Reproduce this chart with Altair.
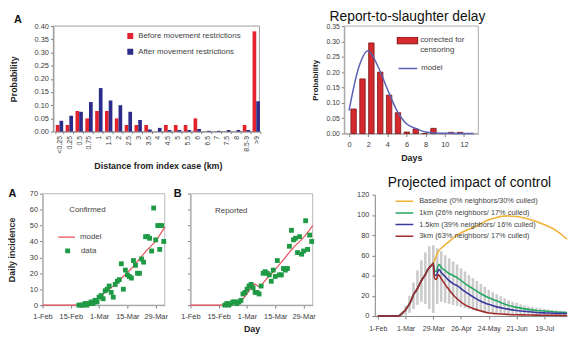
import altair as alt
import pandas as pd

FONT = "Liberation Sans"
W, H = 573, 329

# ---------------- data: distance histogram ----------------
dist_cats = ["<0.25", "0.25", "0.5", "0.75", "1", "1.5", "2", "2.5", "3", "3.5", "4",
             "4.5", "5", "5.5", "6", "6.5", "7", "7.5", "8", "8.5-9", ">9"]
before_vals = [0.025, 0.025, 0.078, 0.05, 0.078, 0.078, 0.05, 0.025, 0.025, 0.025, 0.0,
               0.025, 0.025, 0.025, 0.05, 0.0, 0.0, 0.0, 0.0, 0.025, 0.38]
after_vals = [0.041, 0.06, 0.075, 0.112, 0.165, 0.118, 0.10, 0.075, 0.044, 0.008, 0.014,
              0.006, 0.006, 0.006, 0.01, 0.003, 0.003, 0.006, 0.006, 0.006, 0.115]
SER1 = ["Before movement restrictions", "After movement restrictions"]
COL1 = ["#e3232b", "#2d2b8a"]

# ---------------- data: report-to-slaughter delay ----------------
delay_days = [0, 1, 2, 3, 4, 5, 6, 7, 8, 9, 10, 11, 12]
delay_prob = [0.08, 0.178, 0.295, 0.20, 0.125, 0.068, 0.005, 0.015, 0.0, 0.017, 0.0, 0.004, 0.004]
model_days = [0, 1, 2, 3, 4, 5, 6, 7, 8, 9, 10, 11, 12, 13]
model_prob = [0.075, 0.214, 0.27, 0.22, 0.145, 0.075, 0.032, 0.016, 0.005, 0.002, 0.001, 0.0005, 0.0, 0.0]

# ---------------- data: daily incidence ----------------
conf_days = list(range(18, 61))
conf_vals = [0, 0, 0, 1, 0, 1, 2, 1, 3, 2, 5, 6, 4, 9, 10, 12, 8, 5, 13, 15, 16, 26, 10, 22,
             19, 18, 17, 28, 25, 20, 20, 29, 27, 43, 43, 42, 34, 61, 41, 50, 35, 50, 40]
conf_model_days = [0, 20, 22, 24, 26, 28, 30, 32, 34, 36, 38, 40, 42, 44, 46, 48, 50, 52, 54, 56, 58, 60.5]
conf_model_vals = [0, 0, 0.5, 1.5, 3, 5, 7, 9, 11, 13, 15.5, 18, 20.5, 23, 26, 29, 32, 35, 37.5, 40, 44, 49]
rep_days = list(range(17, 61))
rep_vals = [0, 1, 0, 1, 2, 2, 1, 2, 3, 7, 8, 10, 12, 13, 11, 8, 8, 7, 12, 20, 21, 20, 19, 15,
            22, 18, 28, 19, 19, 23, 22, 23, 37, 47, 41, 42, 33, 43, 32, 34, 53, 35, 44, 40]
rep_model_days = [0, 17, 20, 22, 24, 26, 28, 30, 31.5, 33, 34.5, 36, 38, 40, 43, 46, 49.5, 52, 54.5, 57, 60.5]
rep_model_vals = [0, 0, 0.5, 1, 2, 4, 7, 11, 13.5, 12.5, 11, 14, 17, 19.5, 24, 28.5, 34, 37.5, 40.5, 44, 50]
inc_tick_days = [0, 14, 28, 42, 56]
inc_tick_labels = ["1-Feb", "15-Feb", "1-Mar", "15-Mar", "29-Mar"]

# ---------------- data: projected impact ----------------
rise_days = [0, 10, 20, 22, 24, 26, 28, 30, 32, 34, 36, 38, 40, 42, 44, 46, 48, 50, 52, 54, 56]
rise_vals = [0, 0, 0, 0.5, 2, 4, 6, 9, 12, 16, 21, 24, 27, 31, 35, 38, 41, 45, 48, 50, 52]
base_days = [58, 60, 62, 64, 70, 80, 90, 100, 110, 120, 130, 140, 150, 160, 170, 180, 191]
base_vals = [57, 62, 65, 67, 72, 80, 85, 89, 94.5, 97.5, 99, 98.5, 96.5, 93.5, 89.5, 84.5, 76]
ctrl_days = [57, 59, 61, 62, 64, 68, 72, 76, 80, 88, 96, 104, 112, 120, 130, 140, 150, 160, 170, 180, 191]
km1_vals = [45, 44, 50, 51, 48, 45, 42, 40, 38, 32, 27, 22, 18, 15, 11, 8.5, 6.8, 5.5, 4.7, 4, 3.5]
km15_vals = [41, 40, 45, 46, 43, 39, 35, 32, 30, 24, 19, 14.5, 11.5, 9, 7, 5.5, 4.4, 3.5, 3, 2.6, 2.5]
km3_vals = [38, 36, 41, 40, 37, 31, 26, 21, 17, 11, 7.5, 5, 3, 2.2, 1.6, 1.2, 1, 0.8, 0.7, 0.6, 0.5]
band_days = [24, 28, 32, 36, 40, 44, 48, 52, 56, 60, 64, 68, 72, 76, 80, 84, 88, 92, 96, 100, 104,
             108, 112, 116, 120, 124, 128, 132, 136, 140, 144, 148, 152, 156, 160, 164, 168, 172,
             176, 180, 184, 188]
band_hi = [3, 10, 20, 33, 45, 55, 63, 69, 70, 67, 64, 60, 57, 54, 51, 47, 44, 40.5, 37.5, 34.5,
           31.5, 29, 26, 23.5, 21.5, 19.5, 17.5, 15.5, 14, 13, 11.5, 10.5, 9.5, 9, 8.2, 7.6, 7,
           6.5, 6, 5.6, 5.3, 5]
band_lo = [0, 0.5, 3, 7, 11, 14, 12, 7, 3, 12, 14, 13, 12, 11, 10, 9, 8, 7, 6, 5, 4.5, 4, 3.5,
           3, 2.5, 2, 2, 1.5, 1.5, 1, 1, 1, 1, 0.8, 0.8, 0.8, 0.6, 0.6, 0.6, 0.5, 0.5, 0.5]
SER4 = ["Baseline (0% neighbors/30% culled)", "1km (26% neighbors/ 17% culled)",
        "1.5km (39% neighbors/ 16% culled)", "3km (63% neighbors/ 17% culled)"]
COL4 = ["#f0b23a", "#24a862", "#3a3a9e", "#a02c2c"]
proj_tick_days = [0, 28, 56, 84, 112, 140, 168]
proj_tick_labels = ["1-Feb", "1-Mar", "29-Mar", "26-Apr", "24-May", "21-Jun", "19-Jul"]

# ---------------- layout (chart pixel coordinates) ----------------
PAN = {
    "p1": {"xd": [0, 1], "xr": [46, 255], "yd": [0, 0.4], "yr": [123, 16]},
    "p2": {"xd": [-0.5, 13.5], "xr": [341, 477], "yd": [0, 0.35], "yr": [125, 16]},
    "pa": {"xd": [0, 60.5], "xr": [35, 159], "yd": [0, 70], "yr": [299, 186]},
    "pb": {"xd": [0, 60.5], "xr": [185, 309], "yd": [0, 70], "yr": [299, 186]},
    "p4": {"xd": [-3, 191], "xr": [372, 567], "yd": [0, 120], "yr": [310, 187]},
}


def sx(p):
    d = PAN[p]
    return alt.Scale(domain=d["xd"], range=d["xr"], nice=False, zero=False)


def sy(p):
    d = PAN[p]
    return alt.Scale(domain=d["yd"], range=d["yr"], nice=False, zero=False)


AXB = dict(grid=False, labelFont=FONT, titleFont=FONT, labelColor="#3a3a3a", titleColor="#222222",
           domainColor="#808080", tickColor="#808080", tickSize=3, labelFontSize=7.5,
           titleFontSize=9, titleFontWeight="bold", labelFlush=False, labelOverlap=False)


def ax(**kw):
    d = dict(AXB)
    d.update(kw)
    return alt.Axis(**d)


def xenc(p, field="x", axis=None):
    if axis is None:
        return alt.X(f"{field}:Q", scale=sx(p), axis=None)
    return alt.X(f"{field}:Q", scale=sx(p), axis=axis)


def yenc(p, field="y", axis=None):
    if axis is None:
        return alt.Y(f"{field}:Q", scale=sy(p), axis=None)
    return alt.Y(f"{field}:Q", scale=sy(p), axis=axis)


def frame(p, xaxis=None, yaxis=None, stroke="#a8a8a8"):
    d = PAN[p]
    df = pd.DataFrame({"x": [d["xd"][0]], "x2": [d["xd"][1]], "y": [d["yd"][0]], "y2": [d["yd"][1]]})
    return alt.Chart(df).mark_rect(fillOpacity=0, stroke=stroke, strokeWidth=1).encode(
        x=xenc(p, axis=xaxis), x2="x2:Q", y=yenc(p, axis=yaxis), y2="y2:Q")


def label(p, xs, ys, texts, **mk):
    df = pd.DataFrame({"x": xs, "y": ys, "t": texts})
    return alt.Chart(df).mark_text(font=FONT, **mk).encode(x=xenc(p), y=yenc(p), text="t:N")


def lab_expr(vals, labs):
    e = "''"
    for v, l in zip(reversed(vals), reversed(labs)):
        e = f"datum.value == {v} ? '{l}' : ({e})"
    return e


def legend(x, y, **kw):
    base = dict(orient="none", legendX=x, legendY=y, title=None, labelFont=FONT,
                labelFontSize=8, labelColor="#444444", labelLimit=300)
    base.update(kw)
    return alt.Legend(**base)


layers = []

# ================= panel 1: distance histogram =================
layers.append(frame("p1", stroke="#9a9a9a"))
df1 = pd.DataFrame({"cat": dist_cats * 2, "v": before_vals + after_vals,
                    "s": [SER1[0]] * len(dist_cats) + [SER1[1]] * len(dist_cats)})
layers.append(alt.Chart(df1).mark_bar().encode(
    x=alt.X("cat:N", sort=dist_cats,
            scale=alt.Scale(domain=dist_cats, range=[48, 256], paddingInner=0.25, paddingOuter=0.05),
            axis=ax(orient="bottom", offset=123 - H, labelAngle=-90, labelFontSize=7, tickSize=2,
                    labelPadding=2, tickBand="extent", title="Distance from index case (km)", titleY=30)),
    xOffset=alt.XOffset("s:N", scale=alt.Scale(domain=SER1)),
    y=alt.Y("v:Q", scale=sy("p1"),
            axis=ax(orient="left", offset=-46, values=[0, 0.05, 0.1, 0.15, 0.2, 0.25, 0.3, 0.35, 0.4],
                    title="Probability", titleX=-35, labelPadding=2)),
    y2=alt.datum(0),
    fill=alt.Fill("s:N", scale=alt.Scale(domain=SER1, range=COL1),
                  legend=legend(120, 21.5, symbolType="square", symbolSize=36, symbolStrokeWidth=0,
                                clipHeight=9, rowPadding=7, labelOffset=4)),
))
layers.append(label("p1", [-0.172], [0.4224], ["A"], fontSize=11, fontWeight="bold",
                    align="center", baseline="middle", color="#111111"))

# ================= panel 2: report-to-slaughter delay =================
layers.append(frame("p2", stroke="#b0b0b0",
                    xaxis=ax(orient="bottom", offset=125 - H, values=[0, 2, 4, 6, 8, 10, 12],
                             labelPadding=4, title="Days", titleY=20),
                    yaxis=ax(orient="left", offset=-341, labelFontSize=7,
                             values=[0, 0.05, 0.1, 0.15, 0.2, 0.25, 0.3, 0.35],
                             title="Probability", titleX=-25, titleFontSize=8, labelPadding=2)))
df2 = pd.DataFrame({"x": delay_days, "y": delay_prob, "s": ["corrected for censoring"] * len(delay_days)})
layers.append(alt.Chart(df2).mark_bar(size=5.5, stroke="#7a1414", strokeWidth=0.8).encode(
    x=xenc("p2"), y=yenc("p2"), y2=alt.datum(0),
    fill=alt.Fill("s:N", scale=alt.Scale(domain=["corrected for censoring"], range=["#d42a2e"]),
                  legend=legend(394, 27, symbolType="M-1,-0.333H1V0.333H-1Z", symbolSize=441,
                                symbolStrokeColor="#7a1414", symbolStrokeWidth=1, clipHeight=7,
                                labelOffset=2,
                                labelExpr="datum.label == 'corrected for censoring' ? ['corrected for', 'censoring'] : datum.label")),
))
dfm = pd.DataFrame({"x": model_days, "y": model_prob, "s": ["model"] * len(model_days)})
layers.append(alt.Chart(dfm).mark_line(strokeWidth=1.5, interpolate="monotone").encode(
    x=xenc("p2"), y=yenc("p2"),
    stroke=alt.Stroke("s:N", scale=alt.Scale(domain=["model"], range=["#5a60b2"]),
                      legend=legend(395, 55, symbolType="stroke", symbolSize=361, symbolStrokeWidth=1.5,
                                    clipHeight=8, labelOffset=3)),
))
layers.append(label("p2", [6.1], [0.3677], ["Report-to-slaughter delay"], fontSize=14,
                    align="center", baseline="alphabetic", color="#111111"))

# ================= panel A: confirmed =================
inc_expr = lab_expr(inc_tick_days, inc_tick_labels)
layers.append(frame("pa", stroke="#b8b8b8",
                    xaxis=ax(orient="bottom", offset=299 - H, values=inc_tick_days, labelExpr=inc_expr,
                             labelPadding=5, title=None),
                    yaxis=ax(orient="left", offset=-35, values=[0, 10, 20, 30, 40, 50, 60, 70],
                             title="Daily incidence", titleX=-26, labelPadding=2)))
dfam = pd.DataFrame({"x": conf_model_days, "y": conf_model_vals, "s": ["model"] * len(conf_model_days)})
layers.append(alt.Chart(dfam).mark_line(strokeWidth=1.2).encode(
    x=xenc("pa"), y=yenc("pa"),
    stroke=alt.Stroke("s:N", scale=alt.Scale(domain=["model"], range=["#e8505c"]),
                      legend=legend(50, 226, symbolType="stroke", symbolSize=289, symbolStrokeWidth=1.2,
                                    clipHeight=8, labelOffset=4)),
))
dfa = pd.DataFrame({"x": conf_days, "y": conf_vals, "s": ["data"] * len(conf_days)})
layers.append(alt.Chart(dfa).mark_square(size=24, opacity=1).encode(
    x=xenc("pa"), y=yenc("pa"),
    fill=alt.Fill("s:N", scale=alt.Scale(domain=["data"], range=["#1f9a44"]),
                  legend=legend(56.5, 240, symbolType="square", symbolSize=25, symbolStrokeWidth=0,
                                clipHeight=8, labelOffset=9.5)),
))
layers.append(label("pa", [-16.8], [70], ["A"], fontSize=11, fontWeight="bold",
                    align="left", baseline="middle", color="#111111"))
layers.append(label("pa", [13.2], [59.5], ["Confirmed"], fontSize=8, align="left",
                    baseline="middle", color="#444444"))

# ================= panel B: reported =================
layers.append(frame("pb", stroke="#b8b8b8",
                    xaxis=ax(orient="bottom", offset=299 - H, values=inc_tick_days, labelExpr=inc_expr,
                             labelPadding=5, title="Day", titleY=20),
                    yaxis=ax(orient="left", offset=-185, values=[0, 10, 20, 30, 40, 50, 60, 70],
                             labels=False, title=None)))
dfbm = pd.DataFrame({"x": rep_model_days, "y": rep_model_vals})
layers.append(alt.Chart(dfbm).mark_line(strokeWidth=1.2, color="#e8505c").encode(
    x=xenc("pb"), y=yenc("pb")))
dfb = pd.DataFrame({"x": rep_days, "y": rep_vals})
layers.append(alt.Chart(dfb).mark_square(size=24, opacity=1, color="#1f9a44").encode(
    x=xenc("pb"), y=yenc("pb")))
layers.append(label("pb", [-6.3], [70], ["B"], fontSize=11, fontWeight="bold",
                    align="center", baseline="middle", color="#111111"))
layers.append(label("pb", [12.2], [58.9], ["Reported"], fontSize=8, align="left",
                    baseline="middle", color="#444444"))

# ================= panel 4: projected impact =================
dfs = pd.DataFrame({"x": band_days, "lo": band_lo, "hi": band_hi})
layers.append(alt.Chart(dfs).mark_rule(strokeWidth=2.6, color="#cbcbcb").encode(
    x=xenc("p4", axis=ax(orient="bottom", offset=310 - H, values=proj_tick_days,
                         labelExpr=lab_expr(proj_tick_days, proj_tick_labels), labelFontSize=7,
                         labelPadding=6, title=None)),
    y=alt.Y("lo:Q", scale=sy("p4"),
            axis=ax(orient="left", offset=-372, values=[0, 20, 40, 60, 80, 100, 120],
                    title=None, labelPadding=3)),
    y2="hi:Q"))

series4 = [
    (SER4[0], rise_days + base_days, rise_vals + base_vals),
    (SER4[1], rise_days + ctrl_days, rise_vals + km1_vals),
    (SER4[2], rise_days + ctrl_days, rise_vals + km15_vals),
    (SER4[3], rise_days + ctrl_days, rise_vals + km3_vals),
]
for i, (name, dd, vv) in enumerate(series4):
    dfl = pd.DataFrame({"x": dd, "y": vv, "s": [name] * len(dd)})
    if i == 0:
        leg = legend(392, 188.7, symbolType="stroke", symbolSize=324, symbolStrokeWidth=1.5,
                     clipHeight=10, rowPadding=1.8, labelOffset=5, labelFontSize=7.5)
        col = alt.Color("s:N", scale=alt.Scale(domain=SER4, range=COL4), legend=leg)
    else:
        col = alt.Color("s:N", scale=alt.Scale(domain=SER4, range=COL4), legend=None)
    layers.append(alt.Chart(dfl).mark_line(strokeWidth=1.6, interpolate="monotone").encode(
        x=xenc("p4"), y=yenc("p4"), color=col))

layers.append(label("p4", [92.5], [127.8], ["Projected impact of control"], fontSize=14,
                    align="center", baseline="alphabetic", color="#111111"))

chart = alt.layer(*layers).resolve_scale(
    x="independent", y="independent", fill="independent", stroke="independent", color="independent"
).resolve_axis(x="independent", y="independent").resolve_legend(
    fill="independent", stroke="independent", color="independent"
).properties(
    width=W, height=H, autosize=alt.AutoSizeParams(type="none"), padding=0, background="white"
).configure_view(stroke="transparent")

chart.save("out.html", embed_options={"renderer": "svg", "actions": False})
